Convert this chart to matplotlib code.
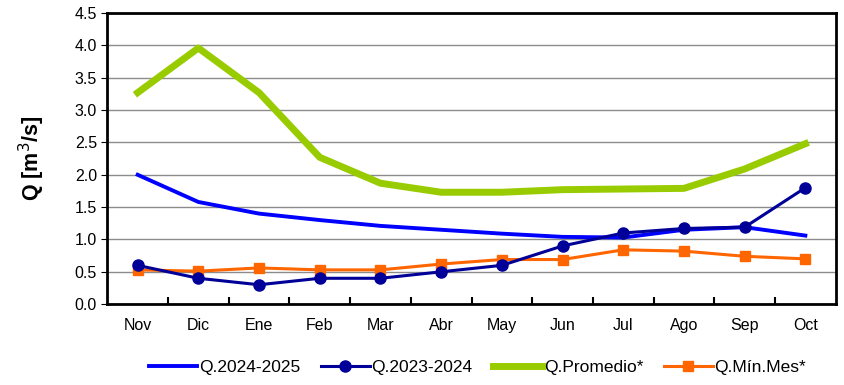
import matplotlib
matplotlib.use("Agg")
import matplotlib.pyplot as plt
import numpy as np

plt.rcParams['font.family'] = ['Liberation Sans', 'DejaVu Sans']

months = ["Nov", "Dic", "Ene", "Feb", "Mar", "Abr", "May", "Jun", "Jul", "Ago", "Sep", "Oct"]
q_2024_2025 = [2.00, 1.58, 1.40, 1.30, 1.21, 1.15, 1.09, 1.04, 1.03, 1.15, 1.19, 1.06]
q_2023_2024 = [0.60, 0.40, 0.30, 0.40, 0.40, 0.50, 0.60, 0.90, 1.10, 1.17, 1.19, 1.80]
q_promedio = [3.27, 3.96, 3.27, 2.27, 1.87, 1.73, 1.73, 1.77, 1.78, 1.79, 2.09, 2.48]
q_min_mes = [0.53, 0.51, 0.56, 0.53, 0.53, 0.62, 0.69, 0.69, 0.84, 0.82, 0.74, 0.70]

fig = plt.figure(figsize=(8.45, 3.85), dpi=100)
ax = fig.add_axes([0.127, 0.210, 0.862, 0.756])
x = np.arange(len(months))

ax.plot(x, q_2024_2025, color="#0000FF", lw=2.8, label="Q.2024-2025", zorder=3)
ax.plot(x, q_2023_2024, color="#000099", lw=2.2, marker="o", ms=8, label="Q.2023-2024", zorder=4)
ax.plot(x, q_promedio, color="#99CC00", lw=5, label="Q.Promedio*", zorder=2)
ax.plot(x, q_min_mes, color="#FF6600", lw=2.2, marker="s", ms=7, label="Q.Mín.Mes*", zorder=3)

ax.set_xlim(-0.5, len(months) - 0.5)
ax.set_ylim(0, 4.5)
ax.set_yticks(np.arange(0, 4.51, 0.5))
ax.set_yticklabels([f"{v:.1f}" for v in np.arange(0, 4.51, 0.5)])
ax.set_xticks(x)
ax.set_xticklabels(months)
ax.set_xticks(np.arange(0.5, len(months) - 0.5, 1), minor=True)
ax.tick_params(axis='x', which='major', length=0, labelsize=11.5, pad=10)
ax.tick_params(axis='x', which='minor', direction='in', length=5, width=1.5)
ax.tick_params(axis='y', which='major', direction='out', length=4, labelsize=11.5)
ax.grid(axis='y', color="#8c8c8c", lw=1)
ax.set_axisbelow(True)
for s in ax.spines.values():
    s.set_linewidth(2)
    s.set_color("black")
ax.set_ylabel("Q [m$^3$/s]", fontsize=15.5, fontweight='bold', labelpad=20)

fig.legend(loc='center', bbox_to_anchor=(0.565, 0.045), ncol=4, frameon=False,
           fontsize=12.5, handlelength=2.8, handletextpad=0.1, columnspacing=1.2)

fig.savefig("out.png", dpi=100)
